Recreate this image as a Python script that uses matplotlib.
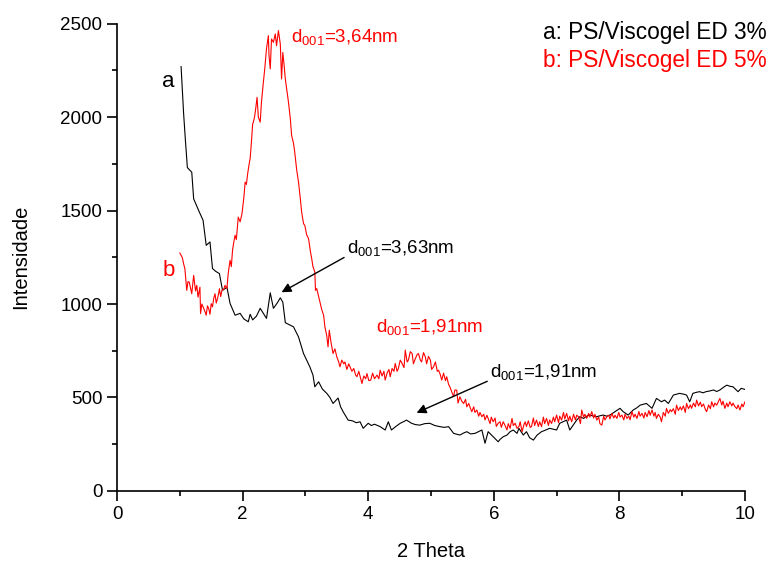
import numpy as np
import matplotlib
matplotlib.use('Agg')
import matplotlib.pyplot as plt
from matplotlib.ticker import MultipleLocator

plt.rcParams['font.family'] = ['Liberation Sans', 'DejaVu Sans']
plt.rcParams['mathtext.fontset'] = 'custom'
plt.rcParams['mathtext.rm'] = 'Liberation Sans'
plt.rcParams['mathtext.it'] = 'Liberation Sans'

# curve a: PS/Viscogel ED 3% (black)
a_theta = [1.02, 1.06, 1.09, 1.12, 1.19, 1.22, 1.30, 1.37, 1.42, 1.48, 1.52, 1.57, 1.63, 1.68, 1.75,
           1.80, 1.88, 1.96, 2.02, 2.09, 2.12, 2.16, 2.22, 2.28, 2.33, 2.38, 2.44, 2.49, 2.55, 2.60,
           2.64, 2.68, 2.74, 2.81, 2.89, 2.97, 3.02, 3.07, 3.12, 3.15, 3.21, 3.27, 3.34, 3.39, 3.44,
           3.52, 3.56, 3.60, 3.68, 3.75, 3.81, 3.87, 3.92, 4.00, 4.05, 4.10, 4.19, 4.27, 4.32, 4.37,
           4.44, 4.51, 4.56, 4.61, 4.69, 4.75, 4.82, 4.90, 4.98, 5.06, 5.14, 5.21, 5.28, 5.36, 5.46,
           5.52, 5.57, 5.63, 5.70, 5.76, 5.81, 5.86, 5.91, 5.99, 6.07, 6.10, 6.15, 6.21, 6.26, 6.31,
           6.37, 6.40, 6.47, 6.52, 6.57, 6.63, 6.69, 6.76, 6.82, 6.89, 6.95, 7.00, 7.05, 7.10, 7.16,
           7.21, 7.27, 7.32, 7.37, 7.43, 7.48, 7.53, 7.59, 7.64, 7.69, 7.74, 7.80, 7.85, 7.93, 8.01,
           8.06, 8.14, 8.22, 8.28, 8.33, 8.43, 8.52, 8.59, 8.67, 8.72, 8.78, 8.86, 8.96, 9.02, 9.07,
           9.12, 9.17, 9.23, 9.28, 9.33, 9.38, 9.44, 9.50, 9.55, 9.60, 9.66, 9.71, 9.76, 9.81, 9.89,
           9.94, 10.0]
a_int = [2270, 2020, 1870, 1730, 1705, 1563, 1500, 1448, 1314, 1332, 1190, 1175, 1163, 1073, 1090,
         1003, 940, 950, 920, 905, 945, 915, 935, 977, 950, 923, 1060, 977, 1005, 1033,
         1010, 900, 890, 878, 824, 735, 700, 664, 620, 557, 584, 545, 522, 500, 468,
         497, 450, 424, 379, 375, 365, 370, 335, 362, 350, 357, 344, 326, 370, 326,
         345, 362, 370, 379, 362, 355, 352, 360, 362, 350, 344, 340, 344, 308, 299,
         310, 317, 305, 308, 318, 326, 255, 317, 290, 263, 276, 290, 299, 317, 326,
         308, 335, 299, 317, 285, 272, 299, 317, 325, 335, 330, 326, 362, 370, 379,
         326, 355, 379, 397, 388, 400, 406, 400, 397, 402, 406, 400, 406, 424, 442,
         424, 406, 433, 445, 459, 468, 442, 495, 477, 486, 468, 513, 522, 518, 513,
         477, 522, 528, 531, 525, 531, 535, 540, 532, 540, 555, 566, 560, 557, 531,
         549, 543]

# curve b: PS/Viscogel ED 5% (red)
b_theta = [1.00, 1.02, 1.04, 1.06, 1.08, 1.11, 1.13, 1.15, 1.17, 1.19, 1.22, 1.25, 1.27, 1.29, 1.32,
           1.33, 1.35, 1.37, 1.40, 1.42, 1.44, 1.46, 1.48, 1.50, 1.52, 1.54, 1.56, 1.58, 1.60, 1.62,
           1.63, 1.65, 1.67, 1.70, 1.72, 1.75, 1.77, 1.80, 1.82, 1.84, 1.86, 1.88, 1.90, 1.93, 1.96,
           1.99, 2.02, 2.04, 2.06, 2.08, 2.10, 2.12, 2.14, 2.16, 2.17, 2.19, 2.21, 2.23, 2.25, 2.28,
           2.30, 2.33, 2.35, 2.38, 2.41, 2.42, 2.44, 2.46, 2.49, 2.52, 2.54, 2.57, 2.60, 2.62, 2.64,
           2.66, 2.68, 2.71, 2.73, 2.76, 2.78, 2.81, 2.83, 2.86, 2.89, 2.92, 2.94, 2.97, 2.99, 3.02,
           3.05, 3.08, 3.10, 3.12, 3.15, 3.16, 3.18, 3.21, 3.23, 3.26, 3.29, 3.31, 3.34, 3.36, 3.38,
           3.41, 3.44, 3.47, 3.50, 3.53, 3.55, 3.58, 3.61, 3.63, 3.66, 3.69, 3.71, 3.74, 3.77, 3.80,
           3.82, 3.85, 3.88, 3.90, 3.93, 3.96, 3.98, 4.01, 4.04, 4.07, 4.10, 4.14, 4.17, 4.19, 4.22,
           4.25, 4.27, 4.30, 4.33, 4.35, 4.38, 4.41, 4.43, 4.46, 4.48, 4.51, 4.54, 4.57, 4.59, 4.62,
           4.64, 4.67, 4.70, 4.72, 4.75, 4.78, 4.80, 4.83, 4.85, 4.88, 4.91, 4.93, 4.96, 4.99, 5.01,
           5.04, 5.07, 5.10, 5.12, 5.15, 5.17, 5.20, 5.23, 5.25, 5.28, 5.30, 5.33, 5.36, 5.38, 5.41,
           5.43, 5.46, 5.49, 5.52, 5.55, 5.57, 5.60, 5.63, 5.65, 5.68, 5.70, 5.73, 5.76, 5.78, 5.81,
           5.84, 5.86, 5.89, 5.91, 5.94, 5.96, 5.99, 6.02, 6.04, 6.07, 6.10, 6.12, 6.15, 6.18, 6.21,
           6.23, 6.26, 6.29, 6.31, 6.34, 6.37, 6.40, 6.42, 6.45, 6.48, 6.50, 6.52, 6.55, 6.58, 6.60,
           6.63, 6.65, 6.68, 6.71, 6.73, 6.76, 6.79, 6.81, 6.84, 6.87, 6.89, 6.92, 6.95, 6.97, 7.00,
           7.03, 7.05, 7.08, 7.11, 7.13, 7.16, 7.19, 7.21, 7.24, 7.27, 7.30, 7.32, 7.35, 7.38, 7.40,
           7.43, 7.45, 7.48, 7.51, 7.53, 7.56, 7.59, 7.61, 7.64, 7.67, 7.69, 7.72, 7.75, 7.77, 7.80,
           7.83, 7.85, 7.88, 7.91, 7.93, 7.96, 7.99, 8.01, 8.04, 8.07, 8.09, 8.12, 8.15, 8.17, 8.20,
           8.23, 8.25, 8.28, 8.31, 8.33, 8.36, 8.39, 8.41, 8.44, 8.47, 8.49, 8.52, 8.55, 8.57, 8.59,
           8.62, 8.65, 8.67, 8.70, 8.73, 8.75, 8.78, 8.81, 8.83, 8.86, 8.89, 8.91, 8.94, 8.97, 8.99,
           9.02, 9.05, 9.07, 9.10, 9.13, 9.15, 9.18, 9.21, 9.23, 9.26, 9.29, 9.31, 9.34, 9.37, 9.39,
           9.42, 9.45, 9.47, 9.50, 9.52, 9.55, 9.58, 9.60, 9.63, 9.65, 9.68, 9.71, 9.73, 9.76, 9.79,
           9.81, 9.84, 9.87, 9.89, 9.92, 9.95, 9.97, 10.00]
b_int = [1273, 1260, 1248, 1215, 1190, 1073, 1120, 1117, 1085, 1055, 1153, 1070, 1100, 1037, 1090,
         949, 1000, 985, 960, 940, 990, 976, 945, 1002, 985, 1030, 1055, 1005, 1029, 1060,
         1082, 1040, 1073, 1080, 1100, 1083, 1163, 1234, 1200, 1290, 1332, 1368, 1345, 1465, 1440,
         1483, 1572, 1652, 1640, 1697, 1741, 1780, 1866, 1964, 1973, 2000, 2050, 2106, 2000, 1973,
         2080, 2186, 2250, 2365, 2436, 2330, 2258, 2418, 2400, 2445, 2382, 2463, 2391, 2204, 2346,
         2280, 2204, 2130, 2080, 1990, 1902, 1860, 1812, 1720, 1652, 1560, 1492, 1430, 1421, 1370,
         1350, 1280, 1243, 1200, 1171, 1073, 1083, 1040, 1011, 970, 940, 878, 830, 771, 860,
         790, 735, 760, 717, 690, 664, 700, 680, 690, 650, 680, 664, 640, 655, 620,
         611, 640, 600, 575, 615, 600, 628, 590, 593, 630, 600, 620, 600, 646, 615,
         640, 593, 630, 650, 611, 655, 640, 682, 640, 655, 700, 682, 660, 753, 690,
         700, 745, 735, 680, 708, 730, 735, 700, 690, 740, 717, 680, 720, 700, 650,
         664, 690, 640, 646, 620, 593, 630, 590, 611, 570, 557, 530, 504, 540, 539,
         470, 504, 480, 468, 490, 450, 468, 440, 424, 450, 420, 433, 400, 420, 397,
         410, 380, 405, 388, 360, 395, 370, 390, 345, 362, 370, 340, 370, 350, 326,
         360, 335, 388, 350, 362, 335, 344, 370, 317, 355, 370, 345, 375, 340, 344,
         390, 350, 379, 345, 370, 344, 395, 360, 388, 350, 380, 361, 395, 370, 406,
         365, 400, 379, 420, 385, 415, 375, 400, 370, 410, 380, 405, 397, 360, 433,
         395, 410, 388, 415, 395, 424, 390, 410, 379, 395, 360, 352, 400, 380, 397,
         405, 385, 415, 390, 405, 388, 420, 395, 406, 380, 410, 388, 400, 380, 424,
         395, 410, 388, 425, 400, 415, 390, 420, 397, 430, 405, 433, 400, 420, 388,
         410, 395, 370, 420, 400, 442, 415, 435, 424, 440, 410, 459, 430, 450, 433,
         455, 420, 468, 440, 460, 442, 470, 450, 486, 455, 475, 451, 465, 435, 424,
         460, 440, 477, 450, 470, 459, 480, 495, 460, 480, 442, 470, 450, 477, 455,
         470, 451, 440, 460, 433, 465, 450, 477]

fig = plt.figure(figsize=(7.7, 5.63), dpi=100)
ax = fig.add_axes([0.152, 0.128, 0.8155, 0.830])

ax.plot(a_theta, a_int, color='black', lw=0.8)
ax.plot(b_theta, b_int, color='red', lw=0.8)

ax.set_xlim(0, 10)
ax.set_ylim(0, 2500)
ax.xaxis.set_major_locator(MultipleLocator(2))
ax.xaxis.set_minor_locator(MultipleLocator(1))
ax.yaxis.set_major_locator(MultipleLocator(500))
ax.yaxis.set_minor_locator(MultipleLocator(250))
ax.spines['top'].set_visible(False)
ax.spines['right'].set_visible(False)
for s in ['left', 'bottom']:
    ax.spines[s].set_linewidth(1.2)
ax.tick_params(which='major', direction='out', length=7, width=1.2, labelsize=13.5)
ax.tick_params(which='minor', direction='out', length=3.5, width=1.2)

ax.set_xlabel('2 Theta', fontsize=14.5, labelpad=14)
ax.set_ylabel('Intensidade', fontsize=14.5, labelpad=22)

# curve labels
ax.text(0.72, 2190, 'a', fontsize=16, color='black', va='center')
ax.text(0.72, 1180, 'b', fontsize=16, color='red', va='center')

# peak annotations
ax.text(2.77, 2430, r'd$_{\mathregular{001}}$=3,64nm', fontsize=13.5, color='red', va='center')
ax.text(4.12, 875, r'd$_{\mathregular{001}}$=1,91nm', fontsize=13.5, color='red', va='center')
ax.annotate(r'd$_{\mathregular{001}}$=3,63nm', xy=(2.62, 1063), xytext=(3.66, 1300),
            fontsize=13.5, color='black', va='center',
            arrowprops=dict(arrowstyle='-|>', color='black', lw=1.0, mutation_scale=14,
                            shrinkA=0, shrinkB=0, relpos=(0, 0.1)))
ax.annotate(r'd$_{\mathregular{001}}$=1,91nm', xy=(4.77, 418), xytext=(5.94, 636),
            fontsize=13.5, color='black', va='center',
            arrowprops=dict(arrowstyle='-|>', color='black', lw=1.0, mutation_scale=14,
                            shrinkA=0, shrinkB=0, relpos=(0, 0.1)))

# legend text
fig.text(0.995, 0.943, 'a: PS/Viscogel ED 3%', fontsize=16.3, color='black', ha='right', va='center')
fig.text(0.995, 0.893, 'b: PS/Viscogel ED 5%', fontsize=16.3, color='red', ha='right', va='center')

fig.savefig('out.png', dpi=100)
